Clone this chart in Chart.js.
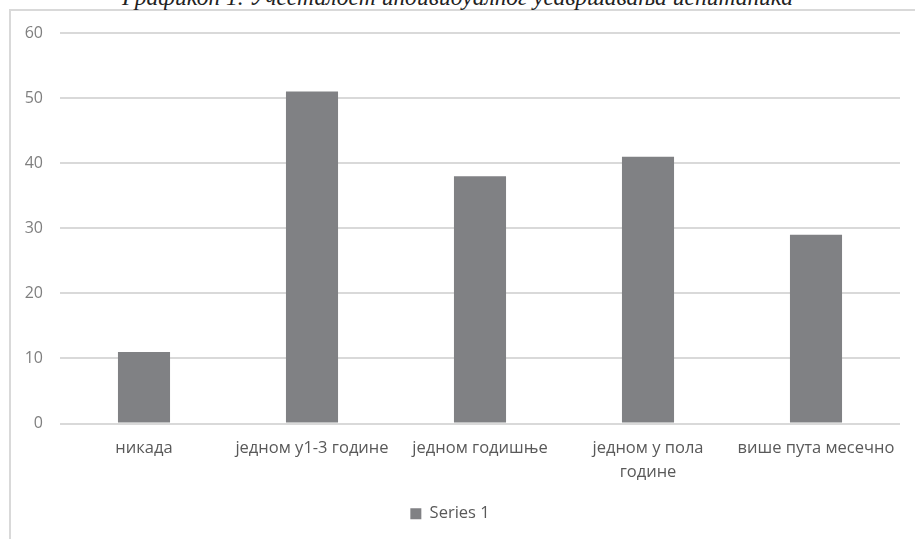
<!DOCTYPE html>
<html>
<head>
<meta charset="utf-8">
<script src="https://cdn.jsdelivr.net/npm/chart.js@4"></script>
<style>
  html, body { margin: 0; padding: 0; background: #fff; overflow: hidden; }
  #wrap { position: relative; width: 915px; height: 539px; overflow: hidden; }
  #frame { position: absolute; left: 9px; top: 9px; width: 920px; height: 540px; border: 2px solid #d9d9d9; box-sizing: border-box; }
  #title { position: absolute; left: 0; width: 915px; top: -16px; text-align: center; font-family: "Liberation Serif", "DejaVu Serif", serif; font-style: italic; font-size: 23.5px; line-height: 26px; color: #222; white-space: nowrap; }
  #c { position: absolute; left: 0; top: 0; }
</style>
</head>
<body>
<div id="wrap">
  <div id="frame"></div>
  <div id="title">Графикон 1. Учесталост индивидуалног усавршавања испитаника</div>
  <canvas id="c" width="915" height="539"></canvas>
</div>
<script>
const categories = ['никада', 'једном у1-3 године', 'једном годишње', ['једном у пола', 'године'], 'више пута месечно'];
const seriesName = 'Series 1';
const seriesValues = [11, 51, 38, 41, 29];
const yMin = 0, yMax = 60, yStep = 10;

new Chart(document.getElementById('c'), {
  type: 'bar',
  data: {
    labels: categories,
    datasets: [{
      label: seriesName,
      data: seriesValues,
      backgroundColor: '#808184',
      borderWidth: 0,
      categoryPercentage: 1,
      barPercentage: 0.31
    }]
  },
  options: {
    responsive: false,
    animation: false,
    devicePixelRatio: 1,
    layout: { padding: { left: 0, right: 15, top: 33, bottom: 7 } },
    plugins: {
      title: { display: false },
      tooltip: { enabled: false },
      legend: {
        display: true,
        position: 'bottom',
        labels: {
          boxWidth: 11, boxHeight: 11, padding: 10,
          color: '#595959',
          font: { family: 'Open Sans', size: 16.5 }
        }
      }
    },
    scales: {
      x: {
        grid: { display: false, drawTicks: false },
        border: { display: false },
        ticks: { color: '#595959', font: { family: 'Open Sans', size: 16.5, lineHeight: 1.45 }, maxRotation: 0, autoSkip: false, padding: 13 },
        afterFit: (s) => { s.height = 72; }
      },
      y: {
        min: yMin, max: yMax,
        ticks: { stepSize: yStep, color: '#7f7f7f', font: { family: 'Open Sans', size: 16 }, padding: 17 },
        grid: { color: '#d9d9d9', lineWidth: 2, drawTicks: false },
        border: { display: false },
        afterFit: (s) => { s.width = 60; }
      }
    }
  }
});
</script>
</body>
</html>
